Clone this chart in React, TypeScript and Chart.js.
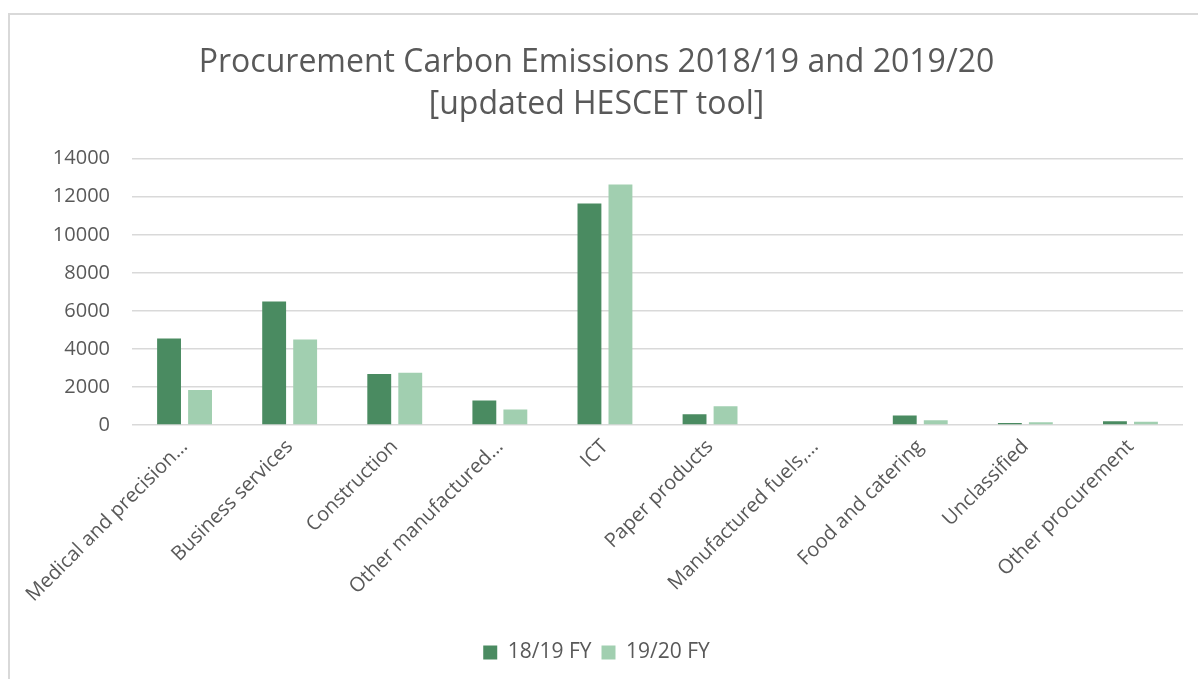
import React, { useEffect, useRef } from "react";
import { Chart, registerables } from "chart.js";

Chart.register(...registerables);

const categories = [
  "Medical and precision…",
  "Business services",
  "Construction",
  "Other manufactured…",
  "ICT",
  "Paper products",
  "Manufactured fuels,…",
  "Food and catering",
  "Unclassified",
  "Other procurement",
];
const fy1819 = [4550, 6500, 2680, 1290, 11650, 570, 0, 500, 100, 200];
const fy1920 = [1840, 4500, 2750, 820, 12650, 990, 0, 250, 150, 170];
const yTicks = [0, 2000, 4000, 6000, 8000, 10000, 12000, 14000];
const seriesNames = ["18/19 FY", "19/20 FY"];
const titleLines = ["Procurement Carbon Emissions 2018/19 and 2019/20", "[updated HESCET tool]"];

const TEXT = "#595959";
const FONT = "'Open Sans', sans-serif";

export default function App() {
  const ref = useRef<HTMLCanvasElement | null>(null);
  useEffect(() => {
    if (!ref.current) return;
    const chart = new Chart(ref.current, {
      type: "bar",
      data: {
        labels: categories,
        datasets: [
          {
            label: seriesNames[0],
            data: fy1819,
            backgroundColor: "#4a8b61",
            barPercentage: 0.77,
            categoryPercentage: 0.59,
          },
          {
            label: seriesNames[1],
            data: fy1920,
            backgroundColor: "#a1cfb0",
            barPercentage: 0.77,
            categoryPercentage: 0.59,
          },
        ],
      },
      options: {
        animation: false,
        responsive: false,
        maintainAspectRatio: false,
        layout: { padding: { left: 0, right: 15, top: 0, bottom: 6 } },
        plugins: {
          title: {
            display: true,
            text: titleLines,
            color: TEXT,
            font: { family: FONT, size: 32, weight: "normal", lineHeight: 1.34 },
            padding: { top: 26, bottom: 32 },
          },
          legend: {
            position: "bottom",
            labels: {
              color: TEXT,
              font: { family: FONT, size: 21 },
              boxWidth: 14,
              boxHeight: 14,
              padding: 10,
            },
          },
          tooltip: { enabled: false },
        },
        scales: {
          x: {
            grid: { display: false, drawTicks: false },
            border: { display: false },
            ticks: {
              color: TEXT,
              font: { family: FONT, size: 20 },
              maxRotation: 45,
              minRotation: 45,
              autoSkip: false,
              padding: 10,
            },
            afterFit: (s: any) => {
              s.height = 207;
            },
          },
          y: {
            min: 0,
            max: 14000,
            afterBuildTicks: (s: any) => {
              s.ticks = yTicks.map((v) => ({ value: v }));
            },
            grid: { color: "#d9d9d9", lineWidth: 1.5, drawTicks: false },
            border: { display: false },
            ticks: {
              color: TEXT,
              font: { family: FONT, size: 20 },
              padding: 22,
              callback: (v: any) => String(v),
            },
            afterFit: (s: any) => {
              s.width = 122;
            },
          },
        },
      },
    });
    return () => chart.destroy();
  }, []);
  return (
    <div
      style={{
        position: "fixed",
        left: 8,
        top: 13,
        width: 1190,
        height: 680,
        borderLeft: "2px solid #d9d9d9",
        borderTop: "2px solid #d9d9d9",
        background: "#fff",
      }}
    >
      <canvas ref={ref} width={1188} height={664} style={{ display: "block" }} />
    </div>
  );
}
